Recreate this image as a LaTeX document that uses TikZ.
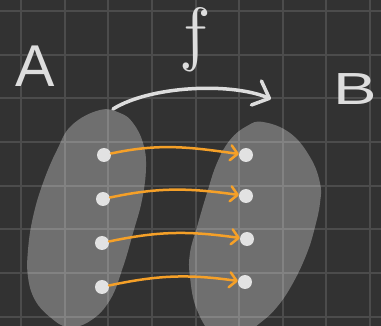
\documentclass[tikz,border=0pt]{standalone}
\usepackage{fontspec}
\setmainfont{Liberation Sans}
\usetikzlibrary{arrows.meta}
\definecolor{bgc}{HTML}{323232}
\definecolor{gridc}{HTML}{4C4C4C}
\definecolor{chalk}{HTML}{DDDDDD}
\definecolor{dotc}{HTML}{E2E2E2}
\definecolor{orng}{HTML}{F5A028}
\begin{document}
\begin{tikzpicture}[x=1pt,y=-1pt,
  gridline/.style={gridc, line width=2pt},
  blob/.style={fill=white, fill opacity=0.3},
  elem/.style={circle, fill=dotc, minimum size=14pt, inner sep=0pt},
  maparrow/.style={orng, line width=2.5pt, line cap=round, -{Straight Barb[length=7pt,width=15pt,round]}},
  farrow/.style={chalk, line width=3.5pt, line cap=round, -{Straight Barb[length=14pt,width=26pt,round]}},
  letter/.style={text=chalk, inner sep=0pt, anchor=base}]
\useasboundingbox (0,0) rectangle (381,326);
\clip (0,0) rectangle (381,326);
\fill[bgc] (0,0) rectangle (381,326);
% grid
\foreach \k in {0,...,8} {
  \draw[gridline] ({21+43.625*\k},0) -- ({21+43.625*\k},326);
}
\foreach \k in {0,...,7} {
  \draw[gridline] (0,{11+43.7*\k}) -- (381,{11+43.7*\k});
}
% blobs
\fill[blob] plot[smooth cycle, tension=0.7] coordinates {
  (100,110) (120,113) (133,123) (143,143) (146,167) (142,200) (133,233)
  (123,267) (110,300) (90,321) (68,327) (50,317) (35,300) (28,277)
  (28,250) (33,217) (43,183) (57,150) (72,125)};
\fill[blob] plot[smooth cycle, tension=0.7] coordinates {
  (263,122) (290,133) (310,157) (320,183) (320,203) (315,227) (307,253)
  (293,283) (277,307) (260,323) (240,336) (215,336) (197,310) (190,277)
  (190,253) (197,227) (207,193) (217,163) (230,140) (247,126)};
% letters
\node[letter, font=\fontsize{59}{59}\selectfont] (A) at (35,87) {A};
\node[letter, font=\fontsize{45}{45}\selectfont, xscale=1.45, transform shape] (B) at (355,105) {B};
\node[letter, scale=7.1, xslant=-0.2, transform shape] (f) at (199,58) {$f$};
% function arrow
\coordinate (fs) at (113,109);
\coordinate (fe) at (271,99);
\draw[farrow] (fs) .. controls (150,86) and (230,82) .. (fe);
% elements
\node[elem] (a1) at (104,155) {};
\node[elem] (a2) at (103,199) {};
\node[elem] (a3) at (102,243) {};
\node[elem] (a4) at (102,287) {};
\node[elem] (b1) at (246,155) {};
\node[elem] (b2) at (246,196) {};
\node[elem] (b3) at (247,239) {};
\node[elem] (b4) at (245,282) {};
\foreach \i in {1,...,4} {
  \draw[maparrow] (a\i) to[out=12, in=172] (b\i);
}
\end{tikzpicture}
\end{document}
